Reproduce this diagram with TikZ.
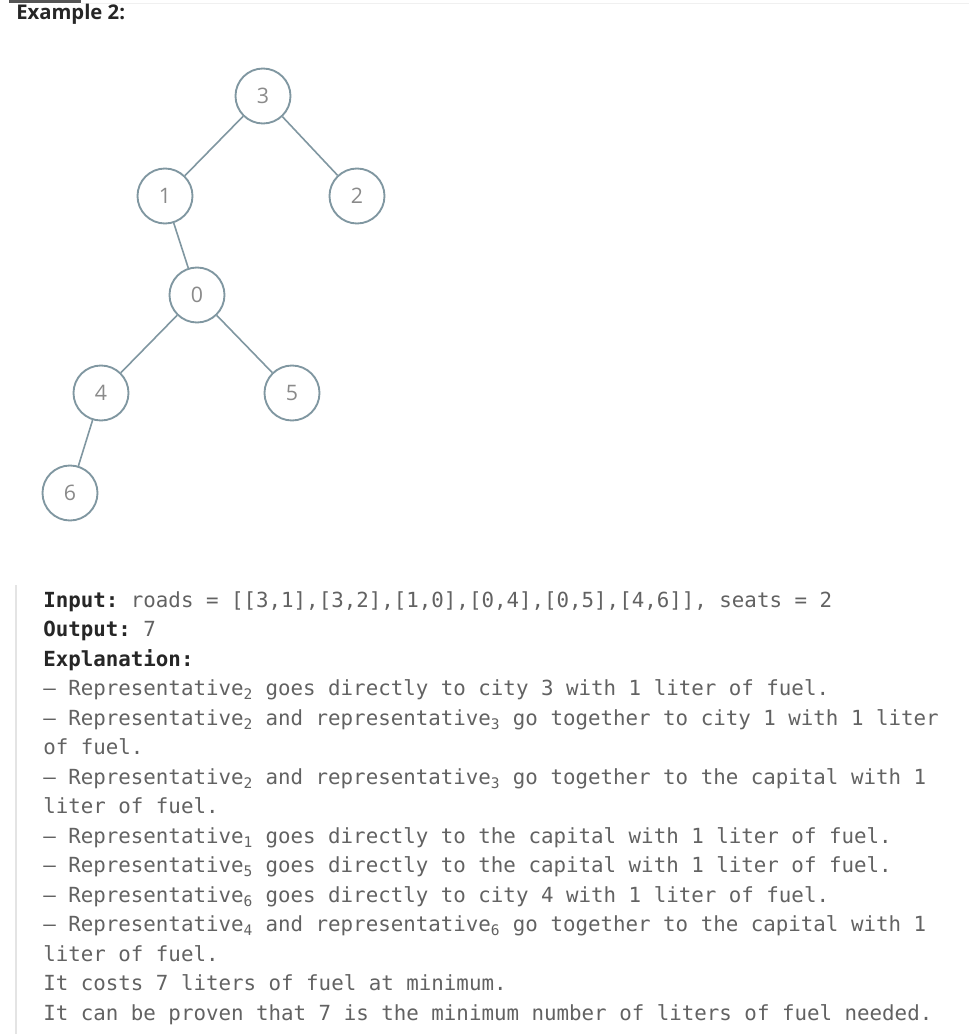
\documentclass[tikz,border=0pt]{standalone}
\usepackage{fontspec}
\setmainfont{Open Sans}
\setmonofont{DejaVu Sans Mono}
\usepackage{tikz}
\usetikzlibrary{positioning}

\definecolor{ringblue}{RGB}{128,151,161}
\definecolor{digitgray}{RGB}{138,138,138}
\definecolor{codegray}{RGB}{98,98,98}
\definecolor{inkdark}{RGB}{38,38,38}
\definecolor{rulegray}{RGB}{228,228,228}
\definecolor{tabgray}{RGB}{85,85,85}

\newcommand{\subn}[1]{\textsubscript{#1}}
\newcommand{\lbl}[1]{{\bfseries\color{inkdark}#1}}

\begin{document}
\begin{tikzpicture}[x=0.75pt, y=-0.75pt,
  city/.style={circle, draw=ringblue, line width=1.4pt, minimum size=41.25pt,
               inner sep=0pt, text=digitgray, font=\fontsize{16pt}{16pt}\selectfont},
  road/.style={draw=ringblue, line width=1.2pt},
  codeline/.style={anchor=base west, inner sep=0pt, text=codegray,
                   font=\ttfamily\fontsize{15.6pt}{22.5pt}\selectfont}]

%% -- Frame (1px = 0.75pt, y downwards) ---------------------------------------
\useasboundingbox (0,0) rectangle (969,1034);
\fill[white] (0,0) rectangle (969,1034);

%% -- Header ---------------------------------------------------------------------
\fill[tabgray] (9,0) rectangle (81,3);
\draw[gray!12, line width=0.75pt] (81,3.5) -- (969,3.5);
\node[anchor=base west, inner sep=0pt, text=inkdark,
      font=\bfseries\fontsize{15.2pt}{18pt}\selectfont] (title) at (16,20) {Example 2:};

%% -- Tree of cities ---------------------------------------------------------------
\node[city] (c3) at (263,96)  {3};
\node[city] (c1) at (165,196) {1};
\node[city] (c2) at (357,196) {2};
\node[city] (c0) at (197,295) {0};
\node[city] (c4) at (101,393) {4};
\node[city] (c5) at (292,393) {5};
\node[city] (c6) at (70,493)  {6};

\foreach \a/\b in {c3/c1, c3/c2, c1/c0, c0/c4, c0/c5, c4/c6}
  \draw[road] (\a) -- (\b);

%% -- Quote bar ----------------------------------------------------------------------
\fill[rulegray] (15,585) rectangle (17,1034);

%% -- Input / output / explanation -----------------------------------------------------
\foreach \txt [count=\k from 0] in {
  {\lbl{Input:} roads = [[3,1],[3,2],[1,0],[0,4],[0,5],[4,6]], seats = 2},
  {\lbl{Output:} 7},
  {\lbl{Explanation:}},
  {– Representative\subn{2} goes directly to city 3 with 1 liter of fuel.},
  {– Representative\subn{2} and representative\subn{3} go together to city 1 with 1 liter},
  {of fuel.},
  {– Representative\subn{2} and representative\subn{3} go together to the capital with 1},
  {liter of fuel.},
  {– Representative\subn{1} goes directly to the capital with 1 liter of fuel.},
  {– Representative\subn{5} goes directly to the capital with 1 liter of fuel.},
  {– Representative\subn{6} goes directly to city 4 with 1 liter of fuel.},
  {– Representative\subn{4} and representative\subn{6} go together to the capital with 1},
  {liter of fuel.},
  {It costs 7 liters of fuel at minimum.},
  {It can be proven that 7 is the minimum number of liters of fuel needed.}}
  \node[codeline] (ln\k) at (43,{607+29.5*\k}) {\txt};

\end{tikzpicture}
\end{document}
